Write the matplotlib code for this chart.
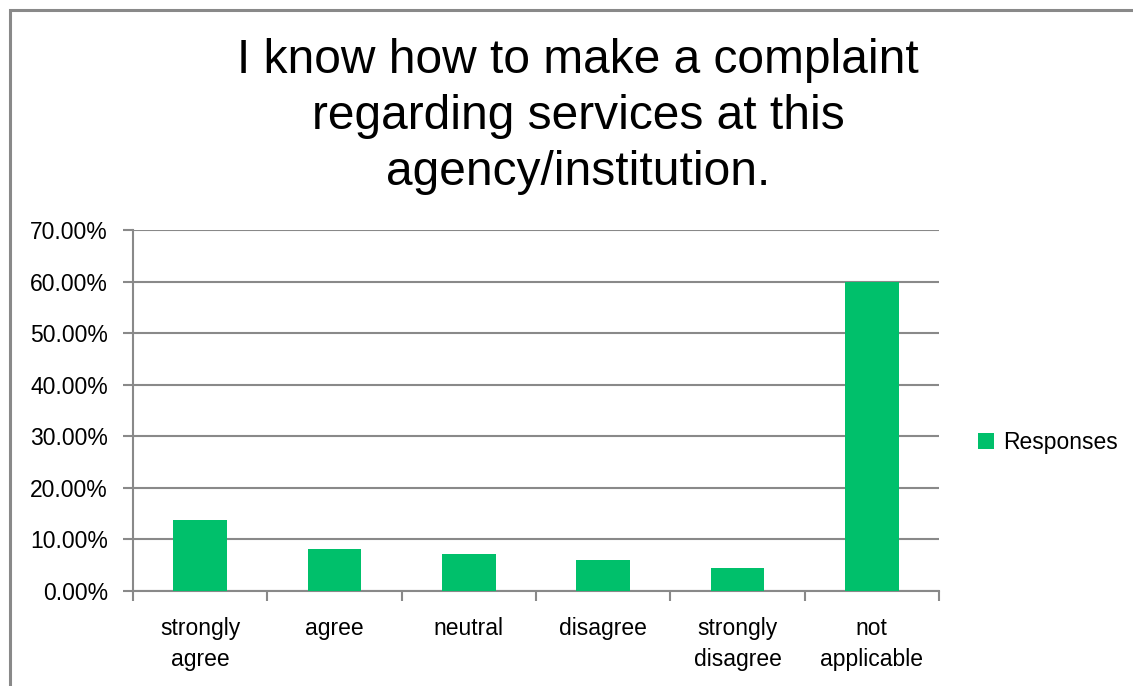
import matplotlib.pyplot as plt
from matplotlib.patches import Rectangle
from matplotlib.ticker import FuncFormatter

plt.rcParams['font.family'] = ['Liberation Sans', 'DejaVu Sans']

categories = ['strongly\nagree', 'agree', 'neutral', 'disagree',
              'strongly\ndisagree', 'not\napplicable']
responses = [13.8, 8.15, 7.15, 6.05, 4.5, 60.0]
title = 'I know how to make a complaint\nregarding services at this\nagency/institution.'

green = '#00c06b'
grey = '#898989'

fig = plt.figure(figsize=(11.33, 6.86), dpi=100)
# outer chart frame (only top/left edges fall inside the image)
fig.patches.append(Rectangle((10 / 1133, -0.1), 1.2, 1.1 - 10 / 686,
                             transform=fig.transFigure, fill=False,
                             edgecolor=grey, linewidth=2.2))

ax = fig.add_axes([133 / 1133, 1 - 591 / 686, (939 - 133) / 1133, (591 - 230) / 686])
xs = range(len(categories))
ax.bar(xs, responses, width=0.4, color=green, label='Responses', zorder=3)

ax.set_ylim(0, 70)
ax.set_xlim(-0.5, len(categories) - 0.5)
ax.set_yticks(range(0, 71, 10))
ax.yaxis.set_major_formatter(FuncFormatter(lambda v, _: f'{v:.2f}%'))
ax.set_xticks([i - 0.5 for i in range(len(categories) + 1)], minor=False)
ax.set_xticklabels([])
ax.set_xticks(list(xs), minor=True)
ax.set_xticklabels(categories, minor=True, fontsize=16.5, linespacing=1.4)
ax.tick_params(axis='x', which='minor', length=0, pad=19)
ax.tick_params(axis='x', which='major', length=7, color=grey, width=1.5)
ax.tick_params(axis='y', length=7, color=grey, width=1.5, labelsize=16.5, pad=11)

ax.grid(axis='y', color=grey, linewidth=1.5, zorder=0)
for side in ['top', 'right']:
    ax.spines[side].set_visible(False)
for side in ['left', 'bottom']:
    ax.spines[side].set_color(grey)
    ax.spines[side].set_linewidth(1.5)

fig.text(578 / 1133, 1 - 38 / 686, title, ha='center', va='top',
         fontsize=34.5, linespacing=1.32)

ax.legend(loc='center left', bbox_to_anchor=(1.023, 0.41), frameon=False,
          fontsize=16.5, handlelength=0.7, handleheight=0.7, handletextpad=0.4)

fig.savefig('out.png', dpi=100)
